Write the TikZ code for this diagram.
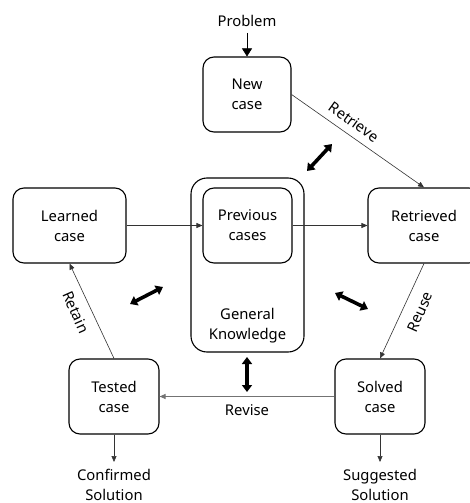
\documentclass[tikz,border=0pt]{standalone}
\usepackage{fontspec}
\setmainfont{Noto Sans}
\usetikzlibrary{arrows.meta}
\begin{document}
\begin{tikzpicture}[x=1pt,y=-1pt,
  casebox/.style={draw=black,line width=1.1pt,rounded corners=11pt,minimum height=75pt,align=center,font=\fontsize{14.8}{20}\selectfont,inner sep=0pt},
  lbl/.style={font=\fontsize{14.8}{20}\selectfont,align=center,inner sep=0pt},
  conn/.style={draw=black!80,line width=0.6pt,-{Triangle[length=6pt,width=5pt]}},
  thick2/.style={line width=3.6pt,{Triangle[length=7pt,width=10pt]}-{Triangle[length=7pt,width=10pt]},shorten <=0pt,shorten >=0pt}]
\useasboundingbox (0,0) rectangle (470,503);
\node[casebox,minimum width=113pt,minimum height=174pt,rounded corners=16pt] (gk) at (247.5,265) {};
\node[lbl] (gkl) at (247.5,326) {General\\Knowledge};
\node[casebox,minimum width=88pt] (new) at (247,94.5) {New\\case};
\node[casebox,minimum width=113pt] (learned) at (69.5,225.5) {Learned\\case};
\node[casebox,minimum width=89pt] (prev) at (247.5,225.5) {Previous\\cases};
\node[casebox,minimum width=112pt] (ret) at (424,225.5) {Retrieved\\case};
\node[casebox,minimum width=90pt] (tested) at (114,396.5) {Tested\\case};
\node[casebox,minimum width=90pt] (solved) at (380,396.5) {Solved\\case};
\node[lbl] (problem) at (247,21) {Problem};
\node[lbl] (confirmed) at (114,485) {Confirmed\\Solution};
\node[lbl] (suggested) at (380,485) {Suggested\\Solution};
\coordinate (pa) at (247,33);
\draw[line width=0.6pt,-{Triangle[length=8pt,width=10pt]}] (pa) -- (new.north);
\draw[conn] (new.east) -- (ret.north);
\draw[conn] (learned.east) -- (prev.west);
\draw[conn] (prev.east) -- (ret.west);
\draw[conn] (ret.south) -- (solved.north);
\draw[conn,draw=black!55,line width=1pt] (solved.west) -- (tested.east);
\draw[conn] (tested.north) -- (learned.south);
\coordinate (c1) at (114,462);
\coordinate (c2) at (380,462);
\draw[conn] (tested.south) -- (c1);
\draw[conn] (solved.south) -- (c2);
\node[lbl,rotate=-35.7] (lretrieve) at (354,122) {Retrieve};
\node[lbl,rotate=66] (lreuse) at (420,312) {Reuse};
\node[lbl,rotate=-66] (lretain) at (76,312) {Retain};
\node[lbl] (lrevise) at (247,410) {Revise};
\coordinate (t1a) at (307,171); \coordinate (t1b) at (332,144);
\coordinate (t2a) at (130,304); \coordinate (t2b) at (163,287);
\coordinate (t3a) at (335,293); \coordinate (t3b) at (368,309);
\coordinate (t4a) at (247,357); \coordinate (t4b) at (247,392);
\draw[thick2] (t1a) -- (t1b);
\draw[thick2] (t2a) -- (t2b);
\draw[thick2] (t3a) -- (t3b);
\draw[thick2] (t4a) -- (t4b);
\end{tikzpicture}
\end{document}
